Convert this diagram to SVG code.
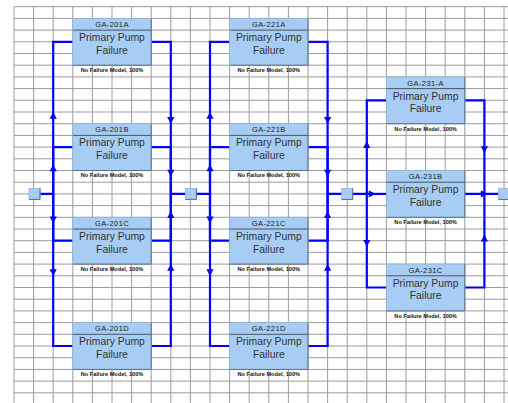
<svg xmlns="http://www.w3.org/2000/svg" xmlns:xlink="http://www.w3.org/1999/xlink" width="508" height="403" viewBox="0 0 508 403">
<style>
.grid{stroke:#9c9c9c;stroke-width:1;fill:none}
.box{fill:#a7cdf5;stroke:#8fb3da;stroke-width:0.8}
.shade{fill:none;stroke:#5b6f86;stroke-width:1}
.hdr{fill:none;stroke:#4a5562;stroke-width:1}
.id{font-family:"Liberation Sans",Arial,sans-serif;font-size:7.5px;fill:#222;text-anchor:middle;letter-spacing:0.4px}
.nm{font-family:"Liberation Sans",Arial,sans-serif;font-size:10.4px;fill:#333;text-anchor:middle}
.lb{font-family:"Liberation Sans",Arial,sans-serif;font-size:5.6px;font-weight:bold;fill:#111;text-anchor:middle}
.wire{fill:none;stroke:#0000ff;stroke-width:2.2;stroke-linejoin:miter}
.ah{fill:#0000ff}
.sq{fill:#a7cdf5;stroke:#8fb3da;stroke-width:0.8}
</style>
<defs>
<path id="ah" class="ah" d="M0,-6 L3.6,0.8 L-3.6,0.8 Z"/>
<g id="box">
<rect class="box" x="0" y="0" width="78.4" height="46.8"/>
<path class="shade" d="M78.4,0 V46.8 H0"/>
<path class="hdr" d="M0,11.7 H78.4"/>
</g>
<g id="sqr">
<rect class="sq" x="0" y="0" width="11" height="11"/>
<path class="shade" d="M11,0 V11 H0"/>
</g>
</defs>
<rect x="0" y="0" width="508" height="403" fill="#ffffff"/>
<g id="grid">
<path class="grid" d="M14,6.7V403M33.6,6.7V403M53.2,6.7V403M72.8,6.7V403M92.4,6.7V403M112,6.7V403M131.6,6.7V403M151.2,6.7V403M170.8,6.7V403M190.4,6.7V403M210,6.7V403M229.6,6.7V403M249.2,6.7V403M268.8,6.7V403M288.4,6.7V403M308,6.7V403M327.6,6.7V403M347.2,6.7V403M366.8,6.7V403M386.4,6.7V403M406,6.7V403M425.6,6.7V403M445.2,6.7V403M464.8,6.7V403M484.4,6.7V403M504,6.7V403
M14,6.7H508M14,18.4H508M14,30.1H508M14,41.8H508M14,53.5H508M14,65.2H508M14,76.9H508M14,88.6H508M14,100.3H508M14,112H508M14,123.7H508M14,135.4H508M14,147.1H508M14,158.8H508M14,170.5H508M14,182.2H508M14,193.9H508M14,205.6H508M14,217.3H508M14,229H508M14,240.7H508M14,252.4H508M14,264.1H508M14,275.8H508M14,287.5H508M14,299.2H508M14,310.9H508M14,322.6H508M14,334.3H508M14,346H508M14,357.7H508M14,369.4H508M14,381.1H508M14,392.8H508"/>
</g>
<g id="connectors">
<path class="wire" d="M40,193.9 H53.2 V41.8 H72.8"/>
<path class="wire" d="M53.2,193.9 V147.1 H72.8"/>
<path class="wire" d="M53.2,193.9 V240.7 H72.8"/>
<path class="wire" d="M53.2,193.9 V346 H72.8"/>
<path class="wire" d="M151.2,41.8 H170.8 V193.9 H185"/>
<path class="wire" d="M151.2,147.1 H170.8 V193.9"/>
<path class="wire" d="M151.2,240.7 H170.8 V193.9"/>
<path class="wire" d="M151.2,346 H170.8 V193.9"/>
<path class="wire" d="M196,193.9 H210 V41.8 H229.6"/>
<path class="wire" d="M210,193.9 V147.1 H229.6"/>
<path class="wire" d="M210,193.9 V240.7 H229.6"/>
<path class="wire" d="M210,193.9 V346 H229.6"/>
<path class="wire" d="M308,41.8 H327.6 V193.9 H341.7"/>
<path class="wire" d="M308,147.1 H327.6 V193.9"/>
<path class="wire" d="M308,240.7 H327.6 V193.9"/>
<path class="wire" d="M308,346 H327.6 V193.9"/>
<path class="wire" d="M352.7,193.9 H366.8 V100.3 H386.4"/>
<path class="wire" d="M366.8,193.9 H386.4"/>
<path class="wire" d="M366.8,193.9 V287.5 H386.4"/>
<path class="wire" d="M464.8,100.3 H484.4 V193.9"/>
<path class="wire" d="M464.8,193.9 H498.5"/>
<path class="wire" d="M464.8,287.5 H484.4 V193.9"/>
<use xlink:href="#ah" transform="translate(53.2,117.9)"/>
<use xlink:href="#ah" transform="translate(53.2,170.5)"/>
<use xlink:href="#ah" transform="translate(53.2,217.3) rotate(180)"/>
<use xlink:href="#ah" transform="translate(53.2,270) rotate(180)"/>
<use xlink:href="#ah" transform="translate(170.8,117.9) rotate(180)"/>
<use xlink:href="#ah" transform="translate(170.8,170.5) rotate(180)"/>
<use xlink:href="#ah" transform="translate(170.8,217.3)"/>
<use xlink:href="#ah" transform="translate(170.8,270)"/>
<use xlink:href="#ah" transform="translate(210,117.9)"/>
<use xlink:href="#ah" transform="translate(210,170.5)"/>
<use xlink:href="#ah" transform="translate(210,217.3) rotate(180)"/>
<use xlink:href="#ah" transform="translate(210,270) rotate(180)"/>
<use xlink:href="#ah" transform="translate(327.6,117.9) rotate(180)"/>
<use xlink:href="#ah" transform="translate(327.6,170.5) rotate(180)"/>
<use xlink:href="#ah" transform="translate(327.6,217.3)"/>
<use xlink:href="#ah" transform="translate(327.6,270)"/>
<use xlink:href="#ah" transform="translate(366.8,147.1)"/>
<use xlink:href="#ah" transform="translate(369.5,193.9) rotate(90)"/>
<use xlink:href="#ah" transform="translate(366.8,240.7) rotate(180)"/>
<use xlink:href="#ah" transform="translate(484.4,147.1) rotate(180)"/>
<use xlink:href="#ah" transform="translate(481.6,193.9) rotate(90)"/>
<use xlink:href="#ah" transform="translate(484.4,240.7)"/>
</g>
<g id="junction-in"><use xlink:href="#sqr" x="29" y="188.4"/></g>
<g id="junction-1"><use xlink:href="#sqr" x="185.4" y="188.4"/></g>
<g id="junction-2"><use xlink:href="#sqr" x="341.7" y="188.4"/></g>
<g id="junction-out"><use xlink:href="#sqr" x="498.5" y="188.4"/></g>

<g id="GA-201A" transform="translate(72.8,18.4)"><use xlink:href="#box"/><text class="id" x="39.2" y="8.8">GA-201A</text><text class="nm" x="39.2" y="22.8">Primary Pump</text><text class="nm" x="39.2" y="35.3">Failure</text><text class="lb" x="39.2" y="53.8">No Failure Model, 100%</text></g>
<g id="GA-201B" transform="translate(72.8,123.7)"><use xlink:href="#box"/><text class="id" x="39.2" y="8.8">GA-201B</text><text class="nm" x="39.2" y="22.8">Primary Pump</text><text class="nm" x="39.2" y="35.3">Failure</text><text class="lb" x="39.2" y="53.8">No Failure Model, 100%</text></g>
<g id="GA-201C" transform="translate(72.8,217.3)"><use xlink:href="#box"/><text class="id" x="39.2" y="8.8">GA-201C</text><text class="nm" x="39.2" y="22.8">Primary Pump</text><text class="nm" x="39.2" y="35.3">Failure</text><text class="lb" x="39.2" y="53.8">No Failure Model, 100%</text></g>
<g id="GA-201D" transform="translate(72.8,322.6)"><use xlink:href="#box"/><text class="id" x="39.2" y="8.8">GA-201D</text><text class="nm" x="39.2" y="22.8">Primary Pump</text><text class="nm" x="39.2" y="35.3">Failure</text><text class="lb" x="39.2" y="53.8">No Failure Model, 100%</text></g>

<g id="GA-221A" transform="translate(229.6,18.4)"><use xlink:href="#box"/><text class="id" x="39.2" y="8.8">GA-221A</text><text class="nm" x="39.2" y="22.8">Primary Pump</text><text class="nm" x="39.2" y="35.3">Failure</text><text class="lb" x="39.2" y="53.8">No Failure Model, 100%</text></g>
<g id="GA-221B" transform="translate(229.6,123.7)"><use xlink:href="#box"/><text class="id" x="39.2" y="8.8">GA-221B</text><text class="nm" x="39.2" y="22.8">Primary Pump</text><text class="nm" x="39.2" y="35.3">Failure</text><text class="lb" x="39.2" y="53.8">No Failure Model, 100%</text></g>
<g id="GA-221C" transform="translate(229.6,217.3)"><use xlink:href="#box"/><text class="id" x="39.2" y="8.8">GA-221C</text><text class="nm" x="39.2" y="22.8">Primary Pump</text><text class="nm" x="39.2" y="35.3">Failure</text><text class="lb" x="39.2" y="53.8">No Failure Model, 100%</text></g>
<g id="GA-221D" transform="translate(229.6,322.6)"><use xlink:href="#box"/><text class="id" x="39.2" y="8.8">GA-221D</text><text class="nm" x="39.2" y="22.8">Primary Pump</text><text class="nm" x="39.2" y="35.3">Failure</text><text class="lb" x="39.2" y="53.8">No Failure Model, 100%</text></g>

<g id="GA-231-A" transform="translate(386.4,76.9)"><use xlink:href="#box"/><text class="id" x="39.2" y="8.8">GA-231-A</text><text class="nm" x="39.2" y="22.8">Primary Pump</text><text class="nm" x="39.2" y="35.3">Failure</text><text class="lb" x="39.2" y="53.8">No Failure Model, 100%</text></g>
<g id="GA-231B" transform="translate(386.4,170.5)"><use xlink:href="#box"/><text class="id" x="39.2" y="8.8">GA-231B</text><text class="nm" x="39.2" y="22.8">Primary Pump</text><text class="nm" x="39.2" y="35.3">Failure</text><text class="lb" x="39.2" y="53.8">No Failure Model, 100%</text></g>
<g id="GA-231C" transform="translate(386.4,264.1)"><use xlink:href="#box"/><text class="id" x="39.2" y="8.8">GA-231C</text><text class="nm" x="39.2" y="22.8">Primary Pump</text><text class="nm" x="39.2" y="35.3">Failure</text><text class="lb" x="39.2" y="53.8">No Failure Model, 100%</text></g>
</svg>
